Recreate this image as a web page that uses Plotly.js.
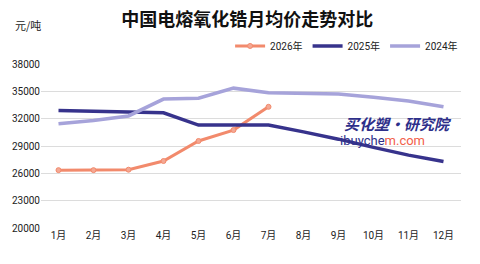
<!DOCTYPE html>
<html>
<head>
<meta charset="utf-8">
<script src="https://cdn.plot.ly/plotly-3.0.1.min.js"></script>
<style>
  html, body { margin: 0; padding: 0; background: #fff; }
  #chart { width: 480px; height: 264px; }
</style>
</head>
<body>
<div id="chart"></div>
<script>
// Monthly average price of fused zirconia in China (yuan/ton)
const months = ['1月', '2月', '3月', '4月', '5月', '6月', '7月', '8月', '9月', '10月', '11月', '12月'];
const price2026 = [26350, 26350, 26400, 27350, 29550, 30750, 33300];
const price2025 = [32900, 32800, 32750, 32650, 31300, 31300, 31300, 30550, 29750, 28850, 28000, 27300];
const price2024 = [31450, 31800, 32300, 34150, 34250, 35350, 34850, 34800, 34700, 34350, 33950, 33300];
const yTicks = [20000, 23000, 26000, 29000, 32000, 35000, 38000];

const font = 'Roboto, "Noto Sans CJK SC", sans-serif';

const traces = [
  {
    name: '2026年', x: months.slice(0, price2026.length), y: price2026,
    type: 'scatter', mode: 'lines+markers',
    line: { color: '#F28A6C', width: 3 },
    marker: { color: '#F4A894', size: 5, line: { color: '#F28A6C', width: 1 } }
  },
  {
    name: '2025年', x: months, y: price2025,
    type: 'scatter', mode: 'lines',
    line: { color: '#37338C', width: 3.5 }
  },
  {
    name: '2024年', x: months, y: price2024,
    type: 'scatter', mode: 'lines',
    line: { color: '#A6A3DA', width: 3.5 }
  }
];

const layout = {
  width: 480, height: 264,
  margin: { l: 41, r: 19, t: 64, b: 36 },
  paper_bgcolor: '#fff', plot_bgcolor: '#fff',
  font: { family: font, size: 10, color: '#222' },
  title: {
    text: '<b>中国电熔氧化锆月均价走势对比</b>',
    font: { family: '"Noto Sans CJK SC", sans-serif', size: 18, color: '#111' },
    x: 0.515, xanchor: 'center', y: 0.925, yanchor: 'middle'
  },
  showlegend: true,
  legend: {
    orientation: 'h', x: 1.005, xanchor: 'right', y: 1.11, yanchor: 'middle',
    font: { family: font, size: 10, color: '#222' },
    traceorder: 'normal', itemwidth: 30, bgcolor: 'rgba(0,0,0,0)'
  },
  xaxis: {
    type: 'category', categoryarray: months, range: [-0.5, 11.5],
    showgrid: false, zeroline: false, showline: false, ticks: '',
    tickfont: { family: font, size: 10, color: '#222' }, fixedrange: true
  },
  yaxis: {
    range: [20000, 38000], tickvals: yTicks, ticktext: yTicks.map(String),
    showgrid: true, gridcolor: '#dcdcdc', gridwidth: 1,
    zeroline: false, showline: false, ticks: '',
    tickfont: { family: font, size: 10, color: '#222' }, fixedrange: true
  },
  annotations: [
    {
      text: '元/吨', xref: 'paper', yref: 'paper', x: -0.03, y: 1.235,
      xanchor: 'center', yanchor: 'middle', showarrow: false,
      font: { family: '"Noto Sans CJK SC", sans-serif', size: 11, color: '#222' }
    },
    {
      text: '<b><i>买化塑·研究院</i></b>', xref: 'x', yref: 'y', x: 9.7, y: 31450,
      xanchor: 'center', yanchor: 'middle', showarrow: false,
      font: { family: '"Noto Sans CJK SC", sans-serif', size: 15, color: '#2E2F8A' }
    },
    {
      text: '<span style="color:#2E2F8A">ibuyche</span><span style="color:#F2604A">m.com</span>',
      xref: 'x', yref: 'y', x: 9.25, y: 29650,
      xanchor: 'center', yanchor: 'middle', showarrow: false,
      font: { family: 'Roboto, sans-serif', size: 13 }
    }
  ]
};

Plotly.newPlot('chart', traces, layout, { displayModeBar: false, staticPlot: true });
</script>
</body>
</html>
